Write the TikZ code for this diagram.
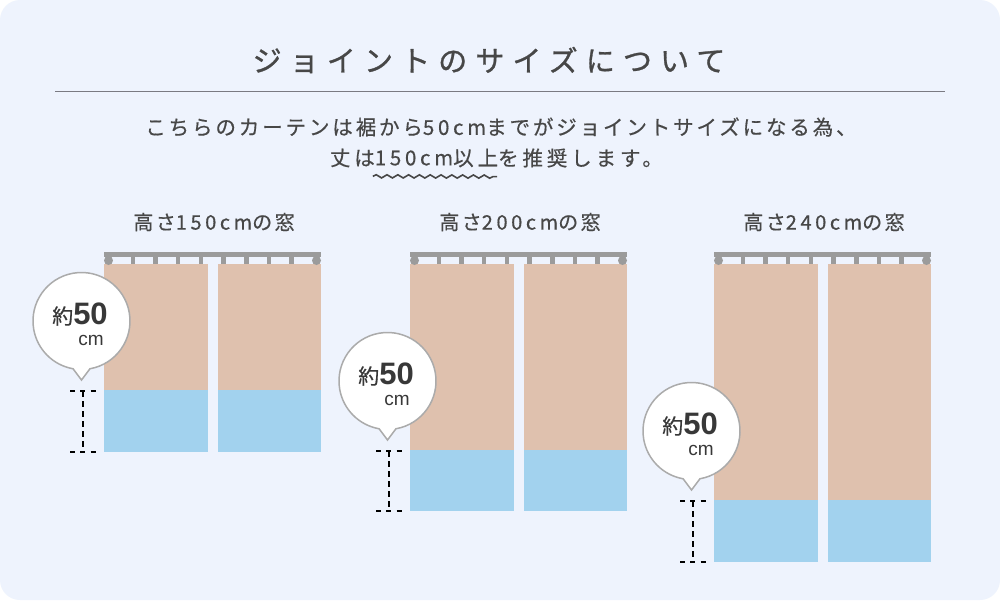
\documentclass[tikz,border=0pt]{standalone}
\usepackage{fontspec}
\setmainfont{Noto Sans CJK JP}
\newfontfamily\numfont{Liberation Sans}
\usetikzlibrary{calc,positioning,decorations.pathmorphing}

\definecolor{bgblue}{HTML}{EEF3FD}
\definecolor{txtgray}{HTML}{474747}
\definecolor{rulegray}{HTML}{7A7A82}
\definecolor{rodgray}{HTML}{9B9B9B}
\definecolor{tan}{HTML}{DFC1AE}
\definecolor{skyblue}{HTML}{A2D2EE}
\definecolor{bubblegray}{HTML}{ABABAB}

% wider half-width figures
\newcommand{\lat}[1]{{\addfontfeature{LetterSpace=18}#1}}

\begin{document}
\begin{tikzpicture}[%
    x=1pt, y=-1pt,              % work in pixels, y going down
    every node/.style={inner sep=0pt, outer sep=0pt, text=txtgray},
    ]
% -------------------------------------------------
% Styles
\tikzset{
  headline/.style={font=\fontsize{29}{34}\selectfont\addfontfeature{LetterSpace=28,FakeBold=1}},
  lead/.style={font=\fontsize{20.5}{24}\selectfont\addfontfeature{LetterSpace=14,FakeBold=0.5}},
  lead2/.style={font=\fontsize{20.5}{24}\selectfont\addfontfeature{LetterSpace=19,FakeBold=0.5}},
  winlab/.style={font=\fontsize{20}{24}\selectfont\addfontfeature{LetterSpace=12,FakeBold=0.5}},
  rod/.style={fill=rodgray},
  upper/.style={fill=tan},
  lower/.style={fill=skyblue},
  bubble/.style={draw=bubblegray, line width=1.5pt, fill=white},
  dim/.style={black, line width=2pt, dash pattern=on 5pt off 5.25pt},
  wave/.style={draw=txtgray, line width=1.6pt, decorate,
    decoration={snake, amplitude=1.6pt, segment length=10.8pt}},
}
% -------------------------------------------------
% Background
\useasboundingbox (0,0) rectangle (1000,600);
\fill[white] (0,0) rectangle (1000,600);
\fill[bgblue, rounded corners=20pt] (0,0) rectangle (1000,600);

% Heading and lead text
\node[headline] (title) at (489,60) {ジョイントのサイズについて};
\draw[rulegray, line width=1pt] (55,91) -- (945,91);

\node[lead] (l1) at (501,127) {こちらのカーテンは裾から\lat{50cm}までがジョイントサイズになる為、};
\node[lead2] (l2b) at (414,158) {\lat{150cm}};
\node[lead2, left=0pt of l2b] (l2a) {丈は};
\node[lead2, right=0pt of l2b] (l2c) {以上};
\node[lead2, right=0pt of l2c] (l2d) {を推奨します。};
\draw[wave] ($(l2b.base west)+(-2,11)$) -- ($(l2c.base east)+(-1,11)$);

% -------------------------------------------------
% Curtains: name / left x / tan bottom / blue bottom / height
\foreach \n/\x/\t/\b/\h in {a/104/390/452/150, b/410/450/511/200, c/714/500/562/240} {
  \node[winlab] (lab-\n) at (\x+110,222) {高さ\lat{\h cm}の窓};

  % panels
  \fill[upper] (\x,264) rectangle (\x+103.5,\t);
  \fill[upper] (\x+114,264) rectangle (\x+217,\t);
  \fill[lower] (\x,\t) rectangle (\x+103.5,\b);
  \fill[lower] (\x+114,\t) rectangle (\x+217,\b);

  % rod with hooks
  \fill[rod] (\x,252) rectangle (\x+217,257);
  \fill[rod] (\x+4.5,260.5) circle[radius=4.5pt];
  \fill[rod] (\x+212.5,260.5) circle[radius=4.5pt];
  \foreach \k in {0,...,7}
    \fill[rod] ({\x+26.5+22.7*\k},257) rectangle ++(4.5,7);

  % speech bubble
  \node[circle, minimum size=97pt] (bub-\n) at (\x-22.5,\t-69) {};
  \coordinate (tip-\n) at (\x-22.5,\t-10);
  \draw[bubble] (bub-\n.-80) arc[start angle=-80, end angle=260, radius=48.5pt]
    -- (tip-\n) -- cycle;
  \node[anchor=base, text=black!78] (num-\n) at ($(bub-\n)+(-1.5,3)$)
    {{\fontsize{21}{21}\selectfont\addfontfeature{FakeBold=0.6}約}{\numfont\bfseries\fontsize{31}{31}\selectfont 50}};
  \node[anchor=base, text=black!78] (cm-\n) at ($(bub-\n)+(9.5,24)$)
    {\numfont\fontsize{19}{19}\selectfont cm};

  % 50cm dimension mark
  \coordinate (dt-\n) at (\x-21.3,\t+1);
  \coordinate (db-\n) at (\x-21.3,\b-0.5);
  \draw[dim] ($(dt-\n)+(-12.7,0)$) -- ($(dt-\n)+(12.8,0)$);
  \draw[dim] ($(db-\n)+(-12.7,0)$) -- ($(db-\n)+(12.8,0)$);
  \draw[dim, dash pattern=on 6pt off 4pt] (dt-\n) -- (db-\n);
}

\end{tikzpicture}
\end{document}
